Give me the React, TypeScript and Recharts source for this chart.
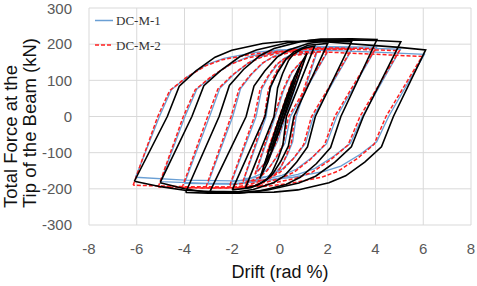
import React from 'react';
import { LineChart, Line, XAxis, YAxis, CartesianGrid } from 'recharts';

type Pt = [number, number];

// Tick labels
const xTicks = [-8, -6, -4, -2, 0, 2, 4, 6, 8];
const yTicks = [-300, -200, -100, 0, 100, 200, 300];

// Black curves (unlabelled), each loop: [drift %, force kN]
const blackLoops: Pt[][] = [
  [[-6.1,-179],[-4.72,0],[-4.22,84],[-3.52,126],[-2.72,164],[-2.02,183],[-0.72,202],[0.28,208],[2,206],[4,196],[5,191],[6.1,184],
   [4.75,0],[4.25,-84],[3.55,-126],[2.75,-164],[2.05,-183],[0.75,-203],[-0.25,-209],[-2,-210],[-4,-204],[-5,-194],[-6.1,-179]],
  [[-5.02,-183],[-3.69,0],[-3.19,85],[-2.49,127],[-1.69,165],[-0.99,184],[0.31,204],[1.31,211],[3,212],[4,210],[5.06,207],
   [3.49,0],[2.99,-84],[2.29,-127],[1.49,-165],[0.79,-184],[-0.51,-203],[-1.51,-210],[-3,-210],[-4,-200],[-5.02,-183]],
  [[-3.95,-210],[-2.55,0],[-2.12,86],[-1.53,130],[-0.85,168],[-0.25,188],[0.85,207],[1.7,214],[3,215],[4.06,213],
   [2.55,0],[2.12,-86],[1.53,-130],[0.85,-168],[0.25,-188],[-0.85,-206],[-1.7,-212],[-3,-212],[-3.95,-210]],
  [[-2.93,-207],[-1.42,0],[-1.09,84],[-0.64,126],[-0.12,164],[0.33,183],[1.18,202],[1.83,208],[3.0,207],
   [1.48,0],[1.15,-84],[0.7,-126],[0.18,-164],[-0.27,-183],[-1.12,-202],[-1.77,-208],[-2.93,-207]],
  [[-2,-203],[-0.63,0],[-0.4,82],[-0.09,123],[0.27,160],[0.57,178],[1.17,197],[2,202],
   [0.58,0],[0.35,-82],[0.04,-123],[-0.32,-160],[-0.62,-178],[-1.22,-197],[-2,-203]],
  [[-1.45,-198],[-0.25,0],[-0.1,79],[0.11,119],[0.35,154],[0.55,172],[0.95,188],[1.45,195],
   [0.27,0],[0.12,-79],[-0.09,-119],[-0.33,-154],[-0.53,-172],[-0.93,-190],[-1.45,-198]],
  [[-0.85,-172],[-0.05,-10],[0.4,70],[0.75,130],[1.13,175],
   [0.3,20],[-0.15,-60],[-0.5,-125],[-0.85,-172]],
  [[-0.65,-135],[-0.15,-30],[0.25,50],[0.6,110],[0.85,140],
   [0.35,40],[0.0,-35],[-0.35,-95],[-0.65,-135]],
  [[-0.4,-95],[0.0,-15],[0.35,55],[0.6,100],
   [0.2,20],[-0.1,-40],[-0.4,-95]],
];

// DC-M-1 (blue)
const dcm1Loops: Pt[][] = [
  [[-6.05,-168],[-5.05,0],[-4.55,74],[-3.85,111],[-3.05,144],[-2.35,161],[-1.05,177],[-0.05,184],[2,183],[4,178],[6.05,172],
   [4.55,0],[4.05,-70],[3.35,-105],[2.55,-137],[1.85,-152],[0.55,-168],[-0.45,-175],[-2,-178],[-4,-176],[-6.05,-168]],
  [[-5.0,-180],[-3.98,0],[-3.48,76],[-2.78,114],[-1.98,148],[-1.28,166],[0.02,183],[1.02,190],[3,190],[5.05,186],
   [3.45,0],[2.95,-74],[2.25,-110],[1.45,-144],[0.75,-160],[-0.55,-177],[-1.55,-184],[-3,-185],[-5.0,-180]],
  [[-4.0,-185],[-2.95,0],[-2.52,78],[-1.93,117],[-1.25,152],[-0.65,169],[0.45,187],[1.3,194],[4.05,192],
   [2.38,0],[1.95,-75],[1.36,-112],[0.68,-146],[0.08,-163],[-1.02,-180],[-1.87,-187],[-4.0,-185]],
  [[-3.02,-186],[-1.98,0],[-1.65,77],[-1.2,116],[-0.68,150],[-0.23,168],[0.62,184],[1.27,192],[3.05,190],
   [1.4,0],[1.07,-74],[0.62,-112],[0.1,-145],[-0.35,-162],[-1.2,-179],[-1.85,-186],[-3.02,-186]],
  [[-2.02,-180],[-1.0,0],[-0.77,75],[-0.46,112],[-0.1,145],[0.2,162],[0.8,179],[2.05,185],
   [0.44,0],[0.21,-73],[-0.1,-109],[-0.46,-142],[-0.76,-158],[-1.36,-174],[-2.02,-180]],
  [[-1.5,-172],[-0.58,0],[-0.43,72],[-0.22,108],[0.02,140],[0.22,156],[0.62,172],[1.55,178],
   [0.68,0],[0.53,-70],[0.32,-104],[0.08,-135],[-0.12,-150],[-0.52,-166],[-1.5,-172]],
  [[-1.0,-155],[-0.2,0],[0.15,72],[0.5,122],[1.05,163],
   [0.25,0],[-0.1,-68],[-0.45,-115],[-1.0,-155]],
  [[-0.5,-95],[0.03,3],[0.55,102],
   [0.08,-6],[-0.5,-95]],
];

// DC-M-2 (red dashed)
const dcm2Loops: Pt[][] = [
  [[-6.15,-190],[-5.12,0],[-4.62,72],[-3.92,108],[-3.12,140],[-2.42,157],[-1.12,173],[-0.12,180],[2,178],[4,172],[5.95,166],
   [4.44,0],[3.94,-77],[3.24,-116],[2.44,-151],[1.74,-168],[0.44,-185],[-0.56,-193],[-2,-195],[-4,-194],[-6.15,-190]],
  [[-5.1,-195],[-4.05,0],[-3.55,74],[-2.85,112],[-2.05,145],[-1.35,162],[-0.05,179],[0.95,186],[3,186],[5.0,182],
   [3.35,0],[2.85,-79],[2.15,-118],[1.35,-154],[0.65,-171],[-0.65,-189],[-1.65,-197],[-3,-198],[-5.1,-195]],
  [[-4.1,-197],[-3.03,0],[-2.6,76],[-2.01,114],[-1.33,148],[-0.73,165],[0.37,182],[1.22,190],[4.0,188],
   [2.29,0],[1.86,-79],[1.27,-119],[0.59,-154],[-0.01,-172],[-1.11,-190],[-1.96,-198],[-4.1,-197]],
  [[-3.1,-195],[-2.05,0],[-1.72,75],[-1.27,113],[-0.75,147],[-0.3,164],[0.55,180],[1.2,188],[3.0,186],
   [1.32,0],[0.99,-78],[0.54,-118],[0.02,-153],[-0.43,-171],[-1.28,-188],[-1.93,-196],[-3.1,-195]],
  [[-2.1,-190],[-1.07,0],[-0.84,73],[-0.53,109],[-0.17,142],[0.13,158],[0.73,175],[2.0,181],
   [0.36,0],[0.13,-77],[-0.18,-115],[-0.54,-150],[-0.84,-167],[-1.44,-184],[-2.1,-190]],
  [[-1.55,-180],[-0.65,0],[-0.5,70],[-0.29,106],[-0.05,137],[0.15,153],[0.55,169],[1.5,175],
   [0.62,0],[0.47,-73],[0.26,-109],[0.02,-142],[-0.18,-158],[-0.58,-175],[-1.55,-180]],
  [[-1.05,-160],[-0.25,0],[0.1,70],[0.45,120],[1.0,160],
   [0.2,0],[-0.15,-70],[-0.5,-120],[-1.05,-160]],
  [[-0.55,-100],[0.0,5],[0.5,100],
   [0.0,-8],[-0.55,-100]],
];

const seriesNames = ['DC-M-1', 'DC-M-2'];

const toData = (loop: Pt[]) => loop.map(([x, y]) => ({ x, y }));

const BLUE = '#6a9fd4';
const RED = '#ff1f1f';

export default function App() {
  return (
    <div style={{ position: 'absolute', left: 0, top: 0, width: 477, height: 286, background: '#fff' }}>
      <LineChart
        width={477}
        height={286}
        margin={{ top: 8, right: 6, left: 0, bottom: 0 }}
        style={{ fontFamily: '"Liberation Sans", Arial, sans-serif' }}
      >
        <CartesianGrid stroke="#d9d9d9" strokeWidth={1} />
        <XAxis
          dataKey="x"
          type="number"
          domain={[-8, 8]}
          ticks={xTicks}
          allowDataOverflow
          axisLine={false}
          tickLine={false}
          height={61}
          tickMargin={12}
          tick={{ fill: '#595959', fontSize: 15 }}
          label={{ value: 'Drift (rad %)', position: 'insideBottom', offset: 8, fill: '#111', fontSize: 18 }}
        />
        <YAxis
          type="number"
          domain={[-300, 300]}
          ticks={yTicks}
          allowDataOverflow
          axisLine={false}
          tickLine={false}
          width={89}
          tickMargin={11}
          tick={{ fill: '#595959', fontSize: 15 }}
        />
        {dcm1Loops.map((loop, i) => (
          <Line key={'b' + i} data={toData(loop)} dataKey="y" type="linear" stroke={BLUE} strokeWidth={1.3}
            dot={false} activeDot={false} isAnimationActive={false} name={seriesNames[0]} />
        ))}
        {dcm2Loops.map((loop, i) => (
          <Line key={'r' + i} data={toData(loop)} dataKey="y" type="linear" stroke={RED} strokeWidth={1.5}
            strokeDasharray="4 2" dot={false} activeDot={false} isAnimationActive={false} name={seriesNames[1]} />
        ))}
        {blackLoops.map((loop, i) => (
          <Line key={'k' + i} data={toData(loop)} dataKey="y" type="linear" stroke="#000" strokeWidth={1.6}
            dot={false} activeDot={false} isAnimationActive={false} />
        ))}
      </LineChart>
      <svg width={477} height={286} style={{ position: 'absolute', left: 0, top: 0, pointerEvents: 'none' }}>
        <text transform="translate(17,208) rotate(-90)" fontSize={18.5} fill="#111"
          fontFamily='"Liberation Sans", Arial, sans-serif'>Total Force at the</text>
        <text transform="translate(36,208) rotate(-90)" fontSize={18.5} fill="#111"
          fontFamily='"Liberation Sans", Arial, sans-serif'>Tip of the Beam (kN)</text>
        <line x1={95} y1={20.5} x2={113} y2={20.5} stroke={BLUE} strokeWidth={1.5} />
        <text x={116} y={25} fontSize={13} fill="#333" fontFamily='"Liberation Serif", "Times New Roman", serif'>{seriesNames[0]}</text>
        <line x1={95} y1={45} x2={113} y2={45} stroke={RED} strokeWidth={1.5} strokeDasharray="4 2" />
        <text x={116} y={49.5} fontSize={13} fill="#333" fontFamily='"Liberation Serif", "Times New Roman", serif'>{seriesNames[1]}</text>
      </svg>
    </div>
  );
}
